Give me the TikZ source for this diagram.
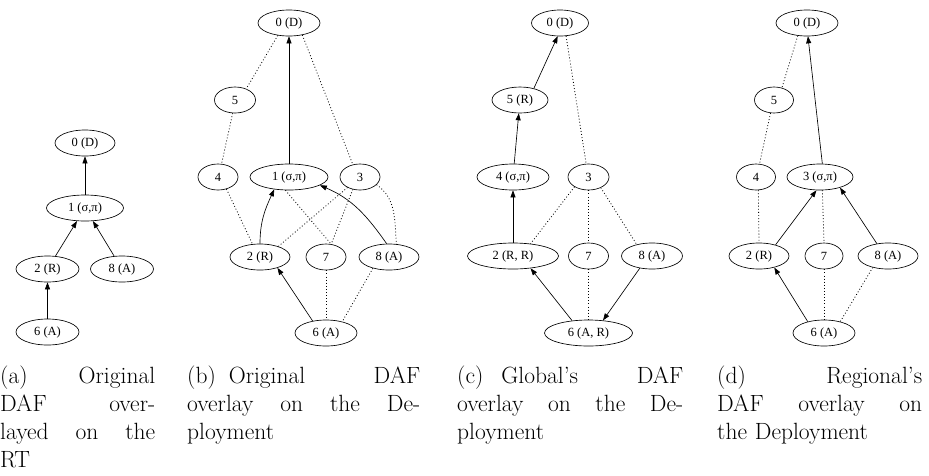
\documentclass[tikz,border=0pt]{standalone}
\usepackage{fontspec}
\newfontfamily\nodefontfam{Liberation Serif}
\usetikzlibrary{shapes.geometric,arrows.meta}
\tikzset{
  nd/.style={draw, ellipse, inner sep=0pt, minimum height=26pt, line width=0.65pt,
    font=\nodefontfam\fontsize{12.5}{14}\selectfont},
  arr/.style={-{Triangle[length=7pt,width=5pt]}, line width=0.65pt},
  dotl/.style={dash pattern=on 0.9pt off 2.2pt, line width=0.8pt},
  captxt/.style={anchor=base west, inner sep=0pt, align=left,
    font=\fontsize{23.5}{28}\selectfont},
}
\begin{document}
\begin{tikzpicture}[x=1pt,y=-1pt]
\useasboundingbox (0,0) rectangle (929,475);
% ---------- (a)
\node[nd, minimum width=60pt] (a0) at (85,143) {0 (D)};
\node[nd, minimum width=77pt] (a1) at (85,208) {1 (σ,π)};
\node[nd, minimum width=63pt] (a2) at (47.5,269) {2 (R)};
\node[nd, minimum width=63pt] (a8) at (122,269) {8 (A)};
\node[nd, minimum width=63pt] (a6) at (47.5,332) {6 (A)};
\draw[arr] (a1) -- (a0);
\draw[arr] (a2) -- (a1);
\draw[arr] (a8) -- (a1);
\draw[arr] (a6) -- (a2);
% ---------- (b)
\node[nd, minimum width=62pt] (b0) at (289,23) {0 (D)};
\node[nd, minimum width=41pt] (b5) at (235,100) {5};
\node[nd, minimum width=40pt] (b4) at (218,177) {4};
\node[nd, minimum width=78pt] (b1) at (289,177) {1 (σ,π)};
\node[nd, minimum width=40pt] (b3) at (360,177) {3};
\node[nd, minimum width=60pt] (b2) at (260,257) {2 (R)};
\node[nd, minimum width=40pt] (b7) at (326,257) {7};
\node[nd, minimum width=60pt] (b8) at (389,257) {8 (A)};
\node[nd, minimum width=62pt] (b6) at (326,333) {6 (A)};
\draw[arr] (b1) -- (b0);
\draw[dotl] (b0.-132) -- (b5.45);
\draw[dotl] (b0.-42) -- (b3.120);
\draw[dotl] (b5.-100) -- (b4.75);
\draw[dotl] (b4.-55) -- (b2.120);
\draw[dotl] (b1.-105) -- (b7.68);
\draw[dotl] (b3.-120) -- (b7.68);
\draw[dotl] (b3.-140) -- (b2.30);
\draw[dotl] (b3.-25) to[out=-35,in=95] (b8.60);
\draw[dotl] (b7.south) -- (b6.north);
\draw[dotl] (b8.-145) -- (b6.35);
\draw[arr] (b2.north) to[out=90,in=-115] (b1.-140);
\draw[arr] (b8.100) to[out=125,in=-23] (b1.-15);
\draw[arr] (b6.138) -- (b2.-32);
% ---------- (c)
\node[nd, minimum width=57pt] (c0) at (560,23) {0 (D)};
\node[nd, minimum width=56pt] (c5) at (520,100) {5 (R)};
\node[nd, minimum width=72pt] (c4) at (513,177) {4 (σ,π)};
\node[nd, minimum width=41pt] (c3) at (588.5,177) {3};
\node[nd, minimum width=91pt] (c2) at (513,256) {2 (R, R)};
\node[nd, minimum width=40pt] (c7) at (588.5,256) {7};
\node[nd, minimum width=61pt] (c8) at (652,256) {8 (A)};
\node[nd, minimum width=88pt] (c6) at (588.5,333) {6 (A, R)};
\draw[arr] (c5.40) -- (c0.-100);
\draw[arr] (c4) -- (c5);
\draw[arr] (c2) -- (c4);
\draw[arr] (c6.143) -- (c2.-35);
\draw[arr] (c8.-135) -- (c6.41);
\draw[dotl] (c0.-65) -- (c3.100);
\draw[dotl] (c3.-145) -- (c2.35);
\draw[dotl] (c3) -- (c7);
\draw[dotl] (c3.-41) -- (c8.143);
\draw[dotl] (c7) -- (c6);
% ---------- (d)
\node[nd, minimum width=62pt] (d0) at (807,23) {0 (D)};
\node[nd, minimum width=39pt] (d5) at (774,100) {5};
\node[nd, minimum width=39pt] (d4) at (756,177) {4};
\node[nd, minimum width=66pt] (d3) at (820,177) {3 (σ,π)};
\node[nd, minimum width=60pt] (d2) at (759,256) {2 (R)};
\node[nd, minimum width=38pt] (d7) at (824,256) {7};
\node[nd, minimum width=60pt] (d8) at (888,256) {8 (A)};
\node[nd, minimum width=62pt] (d6) at (824,333) {6 (A)};
\draw[arr] (d3.80) -- (d0.-86);
\draw[dotl] (d0.-126) -- (d5.57);
\draw[dotl] (d5.-105) -- (d4.75);
\draw[dotl] (d4.-80) -- (d2.north);
\draw[dotl] (d3.-80) -- (d7.north);
\draw[dotl] (d7) -- (d6);
\draw[dotl] (d8.-143) -- (d6.35);
\draw[arr] (d2.34) -- (d3.-105);
\draw[arr] (d8.132) -- (d3.-28);
\draw[arr] (d6.145) -- (d2.-37);
% ---------- captions
\node[captxt, text width=155pt] (capa) at (0,383) {(a)\hfill Original\\DAF\hfill over-\\layed\hfill on\hfill the\\RT};
\node[captxt, text width=233pt] (capb) at (187,383) {(b)\hspace{13pt}Original\hfill DAF\\overlay\hfill on\hfill the\hfill De-\\ployment};
\node[captxt, text width=226pt] (capc) at (457,383) {(c)\hspace{18pt}Global's\hfill DAF\\overlay\hfill on\hfill the\hfill De-\\ployment};
\node[captxt, text width=205pt] (capd) at (717,383) {(d)\hfill Regional's\\DAF\hfill overlay\hfill on\\the Deployment};
\end{tikzpicture}
\end{document}
